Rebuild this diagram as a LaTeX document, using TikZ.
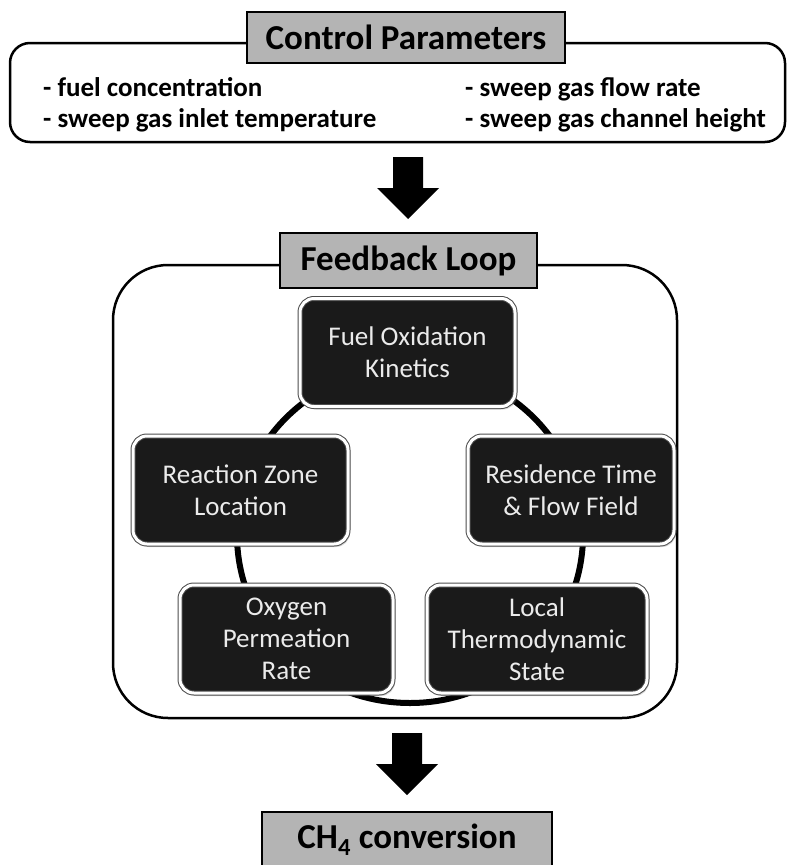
\documentclass[tikz,border=0pt]{standalone}
\usepackage{fontspec}
\setmainfont{Carlito}
\usetikzlibrary{shadows, calc}
\definecolor{boxfill}{HTML}{1A1A1A}
\definecolor{titlefill}{HTML}{B4B4B4}
\tikzset{titlebox/.style={draw=black, line width=2pt, fill=titlefill, font=\fontsize{35}{40}\selectfont\bfseries}}
\tikzset{frame/.style={draw=black, line width=2.5pt}}
\tikzset{item/.style={anchor=base west, inner sep=0pt, font=\fontsize{27}{31}\selectfont\bfseries}}
\tikzset{stage/.style={draw=black!70, line width=1pt, double=white, double distance=3pt, fill=boxfill, rounded corners=14pt, text=white!92!black, align=center, minimum height=108pt, font=\fontsize{27}{32}\selectfont, drop shadow={opacity=.3, shadow xshift=2pt, shadow yshift=-3pt}}}
\tikzset{ring/.style={line width=6pt, black}}
\newcommand{\blockarrow}[2]{\fill[black] (#1-15,#2) -- (#1+15,#2) -- (#1+15,#2+31) -- (#1+31,#2+31) -- (#1,#2+62) -- (#1-31,#2+31) -- (#1-15,#2+31) -- cycle}

\begin{document}
\begin{tikzpicture}[x=1pt, y=-1pt]
	\useasboundingbox (0,0) rectangle (788,865);

	% Coordinates
	\coordinate (C) at (410,535);

	% Control parameters
	\draw[frame, rounded corners=20pt] (10,43) rectangle (785,142);
	\node[titlebox, minimum width=318pt, minimum height=51pt] (params) at (406,37.5) {Control Parameters};
	\node[item] (fuel) at (43,96) {- fuel concentration};
	\node[item] (inlet) at (43,127) {- sweep gas inlet temperature};
	\node[item] (flow) at (465,96) {- sweep gas flow rate};
	\node[item] (height) at (465,127) {- sweep gas channel height};

	\blockarrow{408}{157};

	% Feedback loop
	\draw[frame, rounded corners=55pt] (113,265) rectangle (677,718);
	\node[titlebox, minimum width=257pt, minimum height=55pt] (loop) at (408.5,260.5) {Feedback Loop};

	%% Ring behind the stages
	\draw[ring] (C) ellipse [x radius=173, y radius=168];

	\node[stage, minimum width=215pt] (kinetics) at (407.5,352.5) {Fuel Oxidation\\Kinetics};
	\node[stage, minimum width=215pt] (zone) at (240.5,490) {Reaction Zone\\Location};
	\node[stage, minimum width=206pt] (residence) at (571,490) {Residence Time\\\& Flow Field};
	\node[stage, minimum width=213pt] (permeation) at (286.5,639) {Oxygen\\Permeation\\Rate};
	\node[stage, minimum width=220pt] (thermo) at (537,639) {Local\\Thermodynamic\\State};

	\blockarrow{407}{733};

	% Output
	\node[titlebox, minimum width=290pt, minimum height=56pt] (conversion) at (407,840) {CH\textsubscript{4} conversion};
\end{tikzpicture}
\end{document}
